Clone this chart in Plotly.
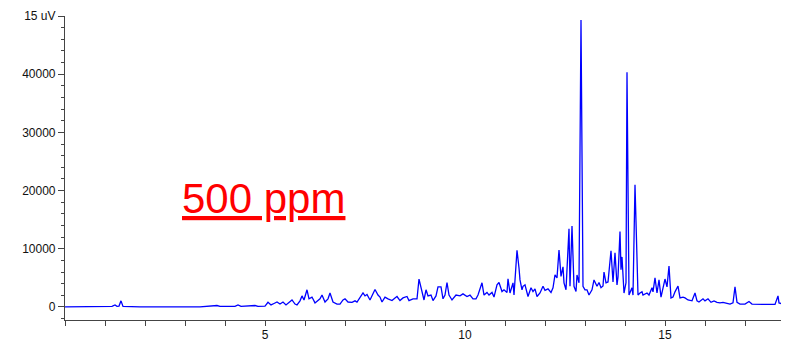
import plotly.graph_objects as go

# Retention time (min) and detector signal
time_min = [
    0, 0.875, 1.175, 1.25, 1.3, 1.35, 1.4, 1.45, 1.875, 2.875, 3.375, 3.8, 3.875,
    4.25, 4.325, 4.4, 4.75, 4.825, 5.0, 5.075, 5.15, 5.225, 5.3, 5.375, 5.45,
    5.525, 5.6, 5.675, 5.75, 5.8, 5.875, 5.925, 5.975, 6.025, 6.05, 6.1, 6.175,
    6.25, 6.325, 6.375, 6.425, 6.5, 6.575, 6.625, 6.7, 6.8, 6.875, 6.95, 7.0,
    7.075, 7.175, 7.25, 7.3, 7.375, 7.45, 7.5, 7.55, 7.625, 7.75, 7.825, 7.875,
    7.925, 8.0, 8.075, 8.175, 8.25, 8.3, 8.375, 8.45, 8.55, 8.6, 8.7, 8.8, 8.85,
    8.925, 8.975, 9.025, 9.075, 9.15, 9.2, 9.275, 9.325, 9.4, 9.45, 9.5, 9.55,
    9.6, 9.675, 9.775, 9.875, 9.95, 10.05, 10.125, 10.2, 10.275, 10.325, 10.425,
    10.475, 10.55, 10.6, 10.675, 10.725, 10.8, 10.85, 10.925, 10.975, 11.05,
    11.075, 11.125, 11.2, 11.225, 11.3, 11.35, 11.375, 11.425, 11.45, 11.5,
    11.55, 11.575, 11.65, 11.7, 11.75, 11.8, 11.875, 11.95, 12.0, 12.075, 12.15,
    12.2, 12.25, 12.3, 12.35, 12.4, 12.45, 12.475, 12.525, 12.6, 12.625, 12.675,
    12.725, 12.775, 12.8, 12.85, 12.9, 12.95, 13.0, 13.05, 13.1, 13.175, 13.225,
    13.3, 13.35, 13.4, 13.45, 13.475, 13.525, 13.575, 13.65, 13.7, 13.75, 13.8,
    13.825, 13.875, 13.9, 13.925, 13.975, 14.025, 14.05, 14.1, 14.175, 14.2,
    14.25, 14.325, 14.375, 14.425, 14.45, 14.55, 14.6, 14.675, 14.7, 14.75, 14.8,
    14.85, 14.9, 14.95, 15.0, 15.05, 15.1, 15.15, 15.2, 15.25, 15.325, 15.375,
    15.45, 15.5, 15.575, 15.675, 15.75, 15.8, 15.85, 15.95, 16.0, 16.075, 16.15,
    16.225, 16.3, 16.375, 16.45, 16.625, 16.7, 16.75, 16.8, 16.875, 17.0, 17.1,
    17.175, 17.45, 17.75, 17.825, 17.85, 17.95, 18.025, 18.075,
]
signal_uv = [
    0, 0, 100, 350, 100, 150, 1050, 100, 0, 0, 0, 250, 100,
    100, 350, 100, 250, 100, 150, 800, 350, 600, 850, 500, 850,
    350, 700, 1200, 500, 350, 1050, 1900, 1200, 2250, 2950, 1400, 1700,
    700, 1200, 1400, 2050, 850, 1400, 2400, 850, 500, 500, 1200, 1400,
    850, 800, 1050, 850, 1700, 2400, 1900, 2150, 1200, 3000, 2050, 1700,
    850, 1700, 1400, 1100, 1550, 1800, 1100, 1550, 1800, 1100, 1400, 1400, 4800,
    2400, 1200, 2950, 1900, 2050, 1100, 1900, 3450, 3450, 1400, 2050, 4200,
    2050, 1200, 2050, 1900, 2250, 1800, 2050, 1400, 1400, 2050, 4150,
    2050, 2500, 2050, 2500, 1700, 3800, 4200, 2650, 2950, 2500,
    4850, 2400, 4150, 2050, 9750, 6700, 4650, 2950, 3550, 3800,
    2400, 1800, 3300, 2650, 3100, 1800, 2400, 3550, 2850, 3100, 2500,
    3300, 5500, 5000, 9800, 5250, 6900, 4150, 2950, 13450, 3550, 13900,
    3550, 2650, 5500, 4150, 49300, 3550, 2950, 2950, 2050, 2950, 4650,
    3550, 4200, 3300, 3600, 6000, 4150, 4300, 9650, 4300, 9300, 3800,
    5150, 12950, 6400, 8600, 2400, 4150, 40350, 2050, 3300, 2050,
    21000, 2050, 2400, 2600, 2050, 2400, 2050, 3300, 2600, 5000, 2400,
    4650, 1700, 3450, 4800, 3450, 7050, 1550, 1700, 2600, 3600, 1550,
    1700, 1550, 1200, 1050, 2400, 1050, 850, 1400, 1050, 1400, 800,
    1050, 800, 700, 800, 500, 700, 3450, 800, 500, 500, 950,
    500, 450, 450, 1900, 700, 500, 950, 500,
]

y_tick_vals = [0, 10000, 20000, 30000, 40000, 50000]
y_tick_text = ["0", "10000", "20000", "30000", "40000", "15 uV"]
x_tick_vals = [5, 10, 15]
x_tick_text = ["5", "10", "15"]
label_text = "500 ppm"

font_family = "Arial, Liberation Sans, sans-serif"

fig = go.Figure()
fig.add_trace(go.Scatter(
    x=time_min, y=signal_uv, mode="lines",
    line=dict(color="#0000ff", width=1.3),
    hoverinfo="skip", showlegend=False,
))

fig.add_annotation(
    x=2.875, y=18700, xref="x", yref="y",
    text="<u>" + label_text + "</u>",
    showarrow=False, xanchor="left", yanchor="middle",
    font=dict(family=font_family, size=42, color="#ff0000"),
)

axis_color = "#444444"
# the page body adds an 8px offset, so the figure is sized to sit inside the window
fig.update_layout(
    width=781, height=333,
    margin=dict(l=57, r=1, t=8, b=21, autoexpand=False),
    paper_bgcolor="white", plot_bgcolor="white",
    font=dict(family=font_family, size=12, color="#111111"),
    xaxis=dict(
        range=[0, 18.075], showgrid=False, zeroline=False, automargin=False,
        showline=True, linecolor=axis_color, linewidth=1.2,
        ticks="outside", ticklen=5, tickcolor=axis_color, tickwidth=1.2,
        tickvals=x_tick_vals, ticktext=x_tick_text,
        ticklabelstandoff=-2,
        minor=dict(dtick=1, tick0=0, ticks="outside", ticklen=5,
                   tickcolor=axis_color, tickwidth=1.2, showgrid=False),
        tickfont=dict(size=12),
    ),
    yaxis=dict(
        range=[-2240, 50000], showgrid=False, zeroline=False, automargin=False,
        showline=True, linecolor=axis_color, linewidth=1.2,
        ticks="outside", ticklen=6, tickcolor=axis_color, tickwidth=1.2,
        tickvals=y_tick_vals, ticktext=y_tick_text,
        minor=dict(dtick=2000, tick0=0, ticks="outside", ticklen=3,
                   tickcolor=axis_color, tickwidth=1.2, showgrid=False),
        tickfont=dict(size=12),
    ),
)

fig.write_html("out.html")
